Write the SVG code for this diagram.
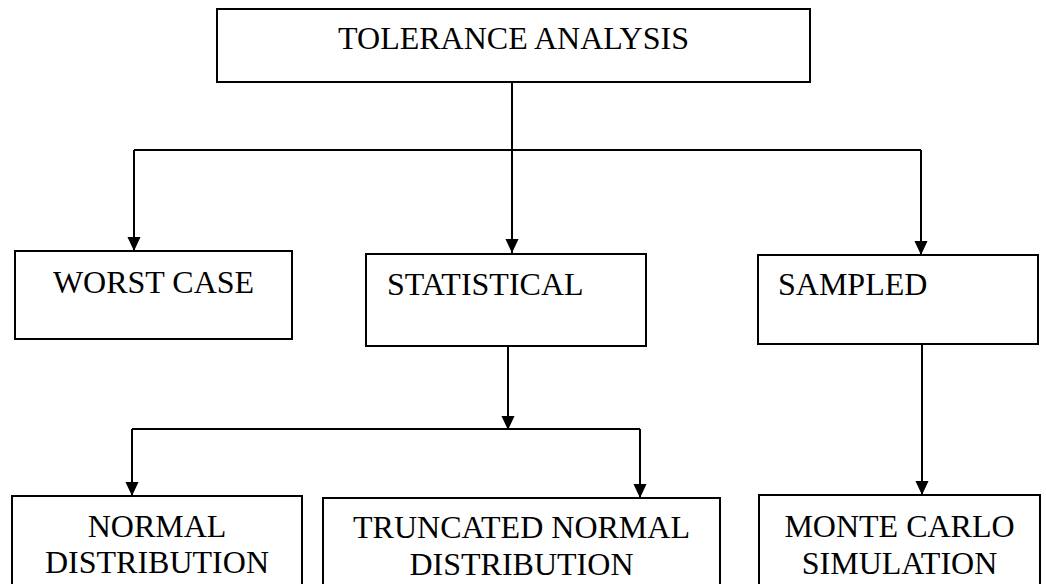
<svg xmlns="http://www.w3.org/2000/svg" width="1046" height="584" viewBox="0 0 1046 584">
<style>
.box{fill:#fff;stroke:#000;stroke-width:2}
.lbl{font-family:"Liberation Serif","Times New Roman",serif;font-size:32px;fill:#000}
.c{text-anchor:middle}
.con{fill:none;stroke:#000;stroke-width:2}
</style>
<defs>
<marker id="ah" markerUnits="userSpaceOnUse" markerWidth="14" markerHeight="16" refX="15" refY="7" orient="auto" viewBox="0 0 15 14">
<path d="M0,0 L15,7 L0,14 z" fill="#000"/>
</marker>
</defs>
<rect width="1046" height="584" fill="#fff"/>
<g id="connectors">
<path class="con" d="M512,82 V253" marker-end="url(#ah)"/>
<path class="con" d="M134,150 H921"/>
<path class="con" d="M134,150 V251" marker-end="url(#ah)"/>
<path class="con" d="M921,150 V255" marker-end="url(#ah)"/>
<path class="con" d="M508,346 V430" marker-end="url(#ah)"/>
<path class="con" d="M132,429 H640"/>
<path class="con" d="M132,429 V496" marker-end="url(#ah)"/>
<path class="con" d="M640,429 V498" marker-end="url(#ah)"/>
<path class="con" d="M922,344 V495" marker-end="url(#ah)"/>
</g>
<g id="tolerance-analysis">
<rect class="box" x="217" y="9" width="593" height="73"/>
<text class="lbl c" x="513.5" y="49">TOLERANCE ANALYSIS</text>
</g>
<g id="worst-case">
<rect class="box" x="15" y="251" width="277" height="88"/>
<text class="lbl c" x="153.5" y="293">WORST CASE</text>
</g>
<g id="statistical">
<rect class="box" x="366" y="254" width="280" height="92"/>
<text class="lbl" x="387" y="295">STATISTICAL</text>
</g>
<g id="sampled">
<rect class="box" x="758" y="255" width="280" height="89"/>
<text class="lbl" x="778" y="295">SAMPLED</text>
</g>
<g id="normal-distribution">
<rect class="box" x="12" y="496" width="290" height="92"/>
<text class="lbl c" x="157" y="537">NORMAL</text>
<text class="lbl c" x="157" y="573">DISTRIBUTION</text>
</g>
<g id="truncated-normal-distribution">
<rect class="box" x="323" y="498" width="397" height="90"/>
<text class="lbl c" x="521.5" y="538">TRUNCATED NORMAL</text>
<text class="lbl c" x="521.5" y="575">DISTRIBUTION</text>
</g>
<g id="monte-carlo-simulation">
<rect class="box" x="759" y="495" width="281" height="93"/>
<text class="lbl c" x="899.5" y="537">MONTE CARLO</text>
<text class="lbl c" x="899.5" y="574">SIMULATION</text>
</g>
</svg>
